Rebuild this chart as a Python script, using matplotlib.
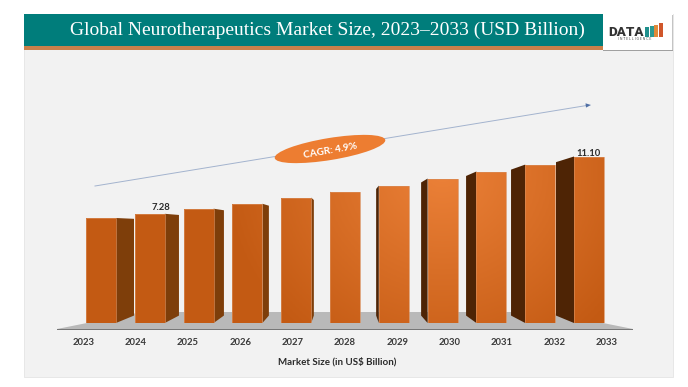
"""Global Neurotherapeutics market size, drawn as a faux 3D column chart."""
import numpy as np
import matplotlib
matplotlib.use("Agg")
import matplotlib.pyplot as plt
from matplotlib.patches import Ellipse, Polygon, Rectangle
from matplotlib.transforms import Affine2D

years = ["2023", "2024", "2025", "2026", "2027", "2028", "2029", "2030", "2031", "2032", "2033"]
market_size = [7.0, 7.28, 7.62, 7.95, 8.36, 8.76, 9.16, 9.63, 10.1, 10.56, 11.10]
value_labels = {1: "7.28", 10: "11.10"}
label_offsets = {1: (8, 1.4), 10: (0, -1.1)}

title = "Global Neurotherapeutics Market Size, 2023\u20132033 (USD Billion)"
x_title = "Market Size (in US$ Billion)"
cagr_text = "CAGR: 4.9%"

# pixel geometry of the plot
W, H = 688, 387
base_y = 323
px_per_unit = 15.0
bar_step = 48.8
first_center = 101
bar_w = 30 / bar_step

# perspective of the side faces
vanish_x = 5.0
vanish_y = 6.3
depth = 0.0786
label_spread = 1.072

plt.rcParams["font.family"] = ["Lato", "DejaVu Sans"]

fig = plt.figure(figsize=(W / 100, H / 100), dpi=100, facecolor="white")
px = Affine2D().scale(1 / W, -1 / H).translate(0, 1) + fig.transFigure


def add_px(patch, zorder=1):
    patch.set_transform(px)
    patch.set_zorder(zorder)
    fig.add_artist(patch)
    return patch


# background and header
add_px(Rectangle((24, 14), 649, 363, fc="#F2F2F2", ec="#E4E4E4", lw=0.6))
add_px(Rectangle((24, 14), 579, 32, fc="#007D7B", ec="none"))
add_px(Rectangle((24, 46), 579, 3.5, fc="#C9804A", ec="none"))
add_px(Rectangle((24, 49.5), 579, 0.8, fc="#8A8A8A", ec="none"))
add_px(Rectangle((603, 14), 70, 36, fc="white", ec="none"))
add_px(Rectangle((603, 49.5), 70, 1.2, fc="#A0A0A0", ec="none"))
add_px(Rectangle((672.4, 15), 1.0, 35, fc="#C4C4C4", ec="none"))
fig.text(327 / W, 1 - 30 / H, title, color="white", fontsize=14.0, ha="center", va="center",
         family=["Liberation Serif"])

# logo
fig.text(608 / W, 1 - 32 / H, "DATA", color="#333333", fontsize=9.6, weight="black", ha="left", va="center",
         family=["Roboto"])
for lx, ltop, lcol in [(645, 27, "#1F8F8C"), (649.5, 26, "#2A9A94"), (654, 25, "#E08A3A"), (658.5, 23, "#D0562A")]:
    add_px(Rectangle((lx, ltop), 4.0, 36.5 - ltop, fc=lcol, ec="none"))
fig.text(635 / W, 1 - 39.5 / H, "I N T E L L I G E N C E", color="#555555", fontsize=2.6, ha="center", va="center",
         family=["Roboto"])

# floor
add_px(Polygon([(57, 329), (142, 312), (548, 312), (633, 329)], closed=True, fc="#B9B9B9", ec="none"))
add_px(Rectangle((57, 328.5), 576, 1.1, fc="#777777", ec="none"))

# plot axes: x is the bar index, y is the market size
top_px = 60
left_px, right_px = 24, 672
ax = fig.add_axes([left_px / W, (H - base_y) / H, (right_px - left_px) / W, (base_y - top_px) / H])
ax.set_zorder(2)
ax.patch.set_alpha(0)
x_lim = ((left_px - first_center) / bar_step, (right_px - first_center) / bar_step)
y_lim = (0, (base_y - top_px) / px_per_unit)

# light falls on the front faces from the upper right of the middle
grid_x, grid_y = np.meshgrid(np.linspace(x_lim[0], x_lim[1], 200), np.linspace(y_lim[0], y_lim[1], 200))
shade = np.clip(1 - np.hypot((grid_x - 7.0) / 4.5, (grid_y - 10.0) / 14.0), 0, 1)
dark_front = np.array([0.765, 0.353, 0.075])
light_front = np.array([0.925, 0.505, 0.22])
front_rgb = dark_front + shade[..., None] * (light_front - dark_front)

for i, value in enumerate(market_size):
    left, right = i - bar_w / 2, i + bar_w / 2
    edge = right if i < vanish_x else left
    back_x = edge + depth * (vanish_x - edge)
    back_low = depth * vanish_y
    back_top = value + depth * (vanish_y - value)
    side_col = "#7E3E0A" if i < vanish_x else "#4E2405"
    ax.add_patch(Polygon([(edge, 0), (back_x, back_low), (back_x, back_top), (edge, value)], closed=True,
                         fc=side_col, ec="none", zorder=2))
    bar = ax.bar(i, value, width=bar_w, color="none", edgecolor="#D98A55", linewidth=0.5, zorder=4)[0]
    img = ax.imshow(front_rgb, extent=(x_lim[0], x_lim[1], y_lim[0], y_lim[1]), origin="lower", aspect="auto", zorder=3)
    img.set_clip_path(Rectangle((left, 0), bar_w, value, transform=ax.transData))

for i, label in value_labels.items():
    ax.annotate(label, (i, market_size[i]), xytext=label_offsets[i], textcoords="offset points",
                ha="center", va="bottom", fontsize=6.8, weight="bold", color="#2A2A2A")

ax.set_xlim(x_lim)
ax.set_ylim(y_lim)
ax.set_yticks([])
ax.set_xticks([vanish_x + (i - vanish_x) * label_spread for i in range(len(years))])
ax.set_xticklabels(years, fontsize=6.8, weight="bold", color="#3A3A3A")
ax.tick_params(axis="x", length=0, pad=10.5)
for spine in ax.spines.values():
    spine.set_visible(False)
ax.set_xlabel(x_title, fontsize=7.0, weight="bold", color="#2A2A2A", labelpad=7.5)
ax.xaxis.set_label_coords((337 - left_px) / (right_px - left_px), -0.13)

# CAGR arrow and badge
arrow = plt.Line2D([95, 586], [186, 105.6], transform=px, color="#A3B3CE", lw=0.7, zorder=3)
fig.add_artist(arrow)
add_px(Polygon([(591, 105), (585.5, 103.3), (586, 107.6)], closed=True, fc="#4F6FA5", ec="none"), zorder=3)
add_px(Ellipse((330, 149), 112, 22, angle=-9.3, fc="#ED7D31", ec="none"), zorder=5)
fig.text(330.5 / W, 1 - 150.5 / H, cagr_text, color="white", fontsize=7.2, weight="bold", rotation=10,
         rotation_mode="anchor", ha="center", va="center", zorder=6)

fig.savefig("out.png", dpi=100)
